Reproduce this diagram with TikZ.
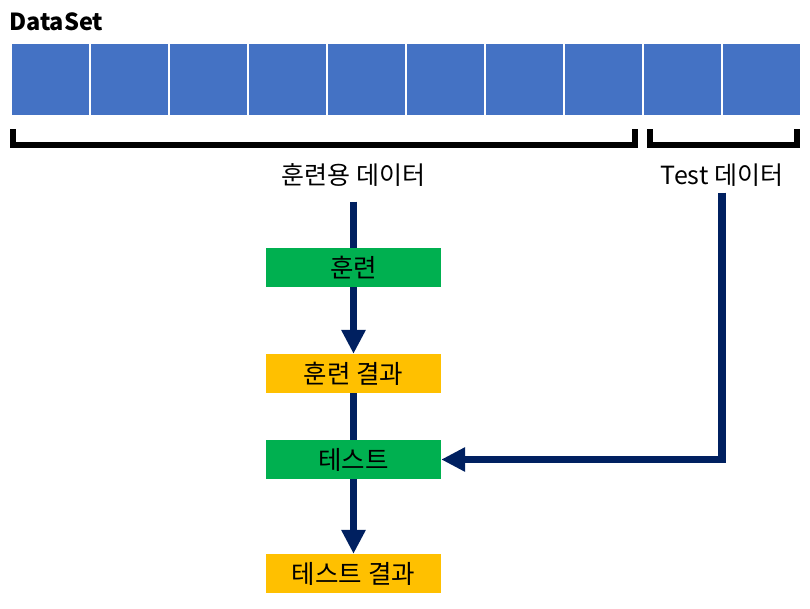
\documentclass[tikz,border=0pt]{standalone}
\usepackage{fontspec}
\setmainfont{Noto Sans CJK KR}
\usetikzlibrary{positioning,arrows.meta,backgrounds}
\definecolor{cellblue}{HTML}{4472C4}
\definecolor{stepgreen}{HTML}{00B050}
\definecolor{resorange}{HTML}{FFC000}
\definecolor{navy}{HTML}{002060}
\tikzset{
  cell/.style    ={fill=cellblue, draw=white, line width=1.5pt, anchor=north west,
                   minimum width=79pt, minimum height=73pt, inner sep=0pt},
  brk/.style     ={line width=6pt, line join=miter},
  lbl/.style     ={font=\fontsize{25}{29}\selectfont, inner sep=0pt},
  box/.style     ={minimum width=175pt, minimum height=39pt, inner sep=0pt,
                   font=\fontsize{25.5}{29}\selectfont},
  stepbox/.style ={box, fill=stepgreen},
  resbox/.style  ={box, fill=resorange},
  fl/.style      ={-{Triangle[length=24pt,width=23pt]}, line width=7.5pt, draw=navy}
}

\begin{document}
\begin{tikzpicture}[x=1pt, y=-1pt]
  \useasboundingbox (0,0) rectangle (810,608);
  \node[anchor=west, inner sep=0pt, font=\fontsize{23.5}{27}\selectfont\bfseries](title) at (9,22){DataSet};

  % data cells
  \foreach \i in {0,...,9}
    \node[cell](c\i) at (10+79*\i,42){};

  % brackets
  \draw[brk] (13,129) |- (635,145) -- (635,129);
  \draw[brk] (650,129) |- (797,145) -- (797,129);

  \node[lbl](trainlbl) at (353.5,175){훈련용 데이터};
  \node[lbl](testlbl) at (722,175){Test 데이터};

  \node[stepbox](train) at (353.5,267.5){훈련};
  \node[resbox](trainres) at (353.5,373.5){훈련 결과};
  \node[stepbox](test) at (353.5,459.5){테스트};
  \node[resbox](testres) at (353.5,573.5){테스트 결과};

  \begin{scope}[on background layer]
    \draw[fl] ([yshift=-15pt]trainlbl.south) -- (trainres.north);
    \draw[fl] (trainres.south) -- (testres.north);
  \end{scope}
  \draw[fl] ([yshift=-6pt]testlbl.south) |- (test.east);
\end{tikzpicture}
\end{document}
